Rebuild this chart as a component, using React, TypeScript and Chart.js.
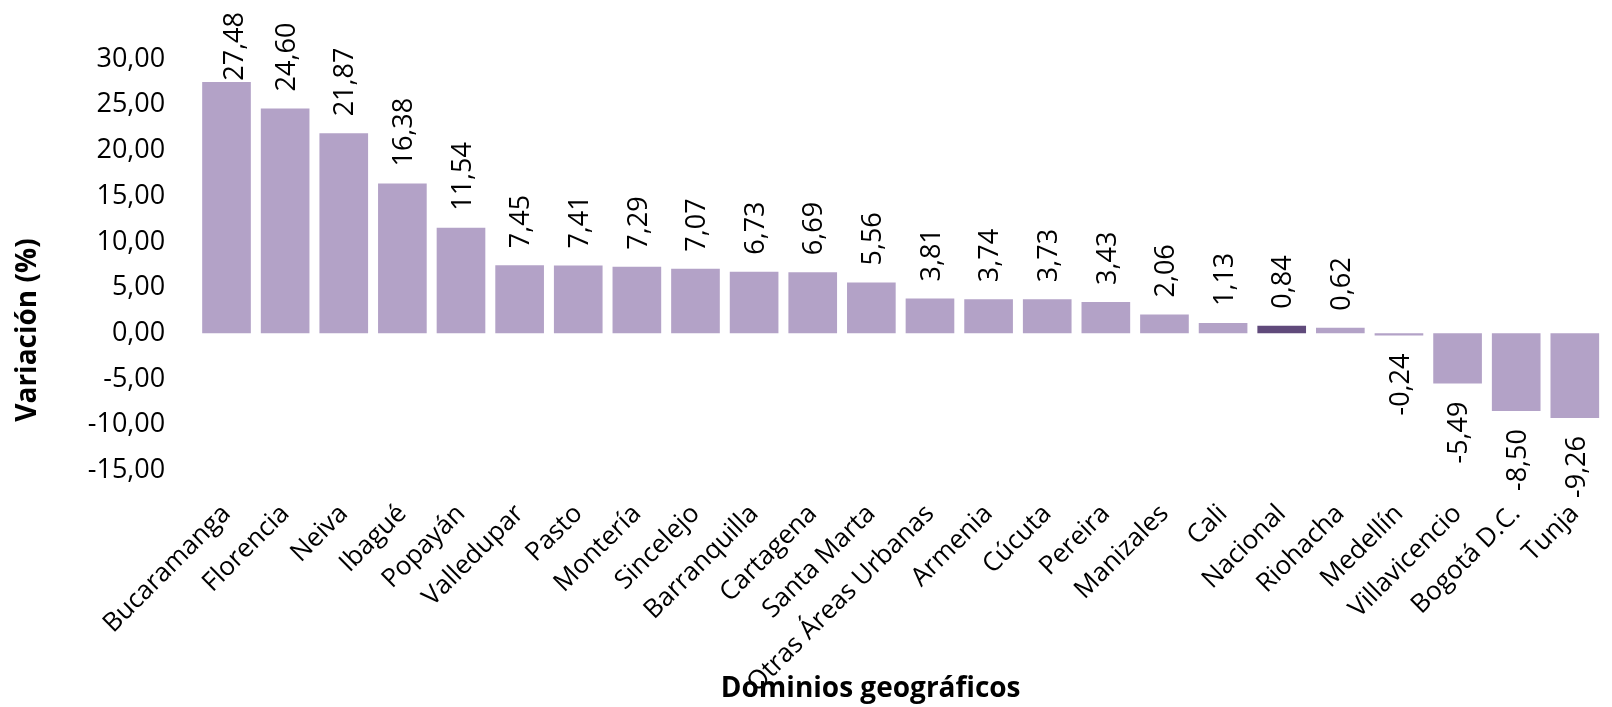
import { useEffect, useRef } from 'react';
import { Chart, registerables } from 'chart.js';

Chart.register(...registerables);

const categories = [
  'Bucaramanga', 'Florencia', 'Neiva', 'Ibagué', 'Popayán', 'Valledupar', 'Pasto', 'Montería',
  'Sincelejo', 'Barranquilla', 'Cartagena', 'Santa Marta', 'Otras Áreas Urbanas', 'Armenia',
  'Cúcuta', 'Pereira', 'Manizales', 'Cali', 'Nacional', 'Riohacha', 'Medellín', 'Villavicencio',
  'Bogotá D.C.', 'Tunja',
];
const values = [
  27.48, 24.6, 21.87, 16.38, 11.54, 7.45, 7.41, 7.29, 7.07, 6.73, 6.69, 5.56, 3.81, 3.74, 3.73,
  3.43, 2.06, 1.13, 0.84, 0.62, -0.24, -5.49, -8.5, -9.26,
];
const highlightCategory = 'Nacional';
const yMin = -15;
const yMax = 30;
const yStep = 5;
const yTitle = 'Variación (%)';
const xTitle = 'Dominios geográficos';

const BAR = '#B3A2C7';
const BAR_HL = '#604A7B';
const FONT = '"Open Sans", "Noto Sans", sans-serif';

const fmt = (v: number) => v.toFixed(2).replace('.', ',');

const labelPlugin = {
  id: 'barLabels',
  afterDatasetsDraw(chart: any) {
    const ctx = chart.ctx as CanvasRenderingContext2D;
    const meta = chart.getDatasetMeta(0);
    ctx.save();
    ctx.font = `27px ${FONT}`;
    ctx.fillStyle = '#000';
    ctx.textBaseline = 'middle';
    meta.data.forEach((bar: any, i: number) => {
      const v = values[i];
      const text = fmt(v);
      const w = ctx.measureText(text).width;
      const { x, y } = bar.getProps(['x', 'y'], true);
      ctx.save();
      if (v >= 0) {
        let start = y - 17;
        let dx = 2;
        if (start - w < 12) {
          start = 12 + w;
          dx = 9;
        }
        ctx.translate(x + dx, start);
        ctx.rotate(-Math.PI / 2);
        ctx.textAlign = 'left';
      } else {
        ctx.translate(x + 2, y + 18);
        ctx.rotate(-Math.PI / 2);
        ctx.textAlign = 'right';
      }
      ctx.fillText(text, 0, 0);
      ctx.restore();
    });
    ctx.restore();
  },
  afterDraw(chart: any) {
    const ctx = chart.ctx as CanvasRenderingContext2D;
    const area = chart.chartArea;
    ctx.save();
    ctx.fillStyle = '#000';
    ctx.font = `bold 28px ${FONT}`;
    ctx.textAlign = 'center';
    ctx.textBaseline = 'alphabetic';
    ctx.translate(36, 330);
    ctx.rotate(-Math.PI / 2);
    ctx.fillText(yTitle, 0, 0);
    ctx.restore();
    ctx.save();
    ctx.fillStyle = '#000';
    ctx.font = `bold 28px ${FONT}`;
    ctx.textAlign = 'center';
    ctx.textBaseline = 'alphabetic';
    ctx.fillText(xTitle, (area.left + area.right) / 2 - 30, 697);
    ctx.restore();
  },
};

export default function App() {
  const ref = useRef<HTMLCanvasElement | null>(null);
  useEffect(() => {
    document.body.style.overflow = 'hidden';
    const canvas = ref.current!;
    const chart = new Chart(canvas, {
      type: 'bar',
      data: {
        labels: categories,
        datasets: [
          {
            data: values,
            backgroundColor: categories.map((c) => (c === highlightCategory ? BAR_HL : BAR)),
            borderWidth: 0,
            categoryPercentage: 1,
            barPercentage: 0.83,
          },
        ],
      },
      options: {
        animation: false,
        responsive: false,
        devicePixelRatio: 1,
        layout: { padding: { top: 59, right: 5.8, bottom: 0, left: 0 } },
        plugins: { legend: { display: false }, tooltip: { enabled: false }, title: { display: false } },
        scales: {
          x: {
            grid: { display: false, drawTicks: false },
            border: { display: false },
            ticks: {
              autoSkip: false,
              minRotation: 45,
              maxRotation: 45,
              padding: 28,
              color: '#000',
              font: { family: FONT, size: 26 },
            },
            afterFit: (s: any) => {
              s.height = 236.5;
            },
          },
          y: {
            min: yMin,
            max: yMax,
            grid: { display: false, drawTicks: false },
            border: { display: false },
            ticks: {
              stepSize: yStep,
              padding: 32,
              color: '#000',
              font: { family: FONT, size: 27 },
              callback: (v: any) => fmt(Number(v)),
            },
            afterFit: (s: any) => {
              s.width = 197.2;
            },
          },
        },
      },
      plugins: [labelPlugin],
    });
    return () => chart.destroy();
  }, []);
  return (
    <div style={{ position: 'fixed', left: 0, top: 0, width: 1625, height: 707, background: '#fff' }}>
      <canvas ref={ref} width={1625} height={707} style={{ display: 'block' }} />
    </div>
  );
}
